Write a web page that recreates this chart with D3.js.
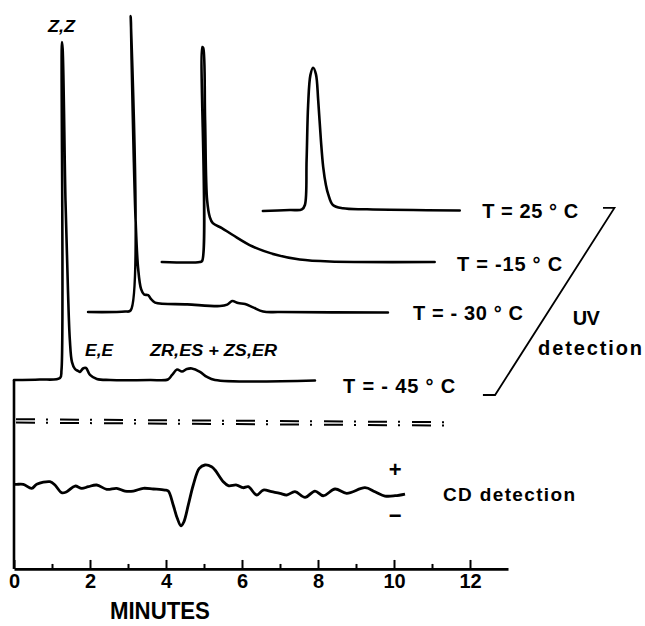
<!DOCTYPE html>
<html><head><meta charset="utf-8">
<script src="https://cdn.jsdelivr.net/npm/d3@7"></script>
<style>body{margin:0;background:#fff}svg{display:block}</style>
</head><body><svg id="c" width="645" height="626"></svg>
<script>
// ---------- data ----------
const tempLabels = ["T = - 45 ° C", "T = - 30 ° C", "T = -15 ° C", "T = 25 ° C"];
// offsets of each stacked trace (minutes, signal units)
const offsetT = [0, 1.95, 3.89, 6.55];
const offsetV = [0, 20.1, 34.9, 50.3];
// label anchors (minutes, signal units)
const labelT = [8.66, 10.50, 11.66, 12.32];
const labelV = [-3.85, 17.75, 32.25, 47.9];

const traceM45 = [[0,0],[0.68,0.15],[1.21,0.6],[1.25,3],[1.262,100],[1.28,98],[1.355,53],[1.42,26.6],[1.47,11.8],[1.526,5.3],[1.605,3.25],[1.684,2.7],[1.737,2.4],[1.816,3.4],[1.895,3.55],[2.0,1.5],[2.18,0.3],[2.53,0],[3.58,0],[4.05,0.15],[4.16,1.5],[4.29,3.1],[4.42,2.5],[4.55,3.25],[4.68,3.4],[4.895,2.4],[5.08,0.9],[5.29,0],[7.92,-0.15]];
const traceM30 = [[0,0],[0.974,0.15],[1.12,0.5],[1.122,87.6],[1.145,74.6],[1.197,47.9],[1.25,27.2],[1.316,13.0],[1.395,6.8],[1.474,5.2],[1.579,5.0],[1.658,3.85],[1.763,2.8],[2.605,2.28],[3.47,1.78],[3.66,2.2],[3.79,3.25],[3.95,2.66],[4.13,2.37],[4.34,1.39],[4.605,0.15],[5.05,0],[7.89,-0.15]];
const traceM15 = [[0,0],[1.0,0],[1.06,0.3],[1.066,63.6],[1.09,63.3],[1.139,42],[1.192,18.3],[1.263,13.3],[1.342,11.5],[1.58,10.06],[1.868,8.0],[2.39,4.6],[3.03,2.07],[3.63,0.74],[4.42,0.15],[7.18,0]];
const traceP25 = [[0,-0.3],[0.71,0],[1.026,0.15],[1.105,1.48],[1.15,14.8],[1.19,31],[1.25,39.9],[1.32,42.1],[1.395,40.2],[1.455,32.5],[1.526,20.7],[1.587,12.7],[1.658,7.4],[1.718,4.7],[1.842,1.48],[2.105,0.5],[2.74,0.2],[5.18,-0.15]];
const uvTraces = [traceM45, traceM30, traceM15, traceP25];

const cdOffset = -31.07;
const cdTrace = [[0,0.2],[0.07,0.2],[0.245,0.2],[0.466,-1.0],[0.597,0.2],[0.947,0.98],[1.079,0],[1.255,-2.28],[1.387,-1.98],[1.605,-0.3],[1.782,-0.98],[1.955,-0.5],[2.176,0],[2.44,-1.27],[2.703,-0.98],[2.92,-1.78],[3.14,-1.78],[3.40,-0.98],[3.666,-1.18],[3.97,-1.48],[4.06,-1.78],[4.19,-5.9],[4.297,-9.85],[4.395,-12.1],[4.47,-10.9],[4.587,-5.9],[4.718,0],[4.876,4.94],[5.026,5.92],[5.20,5.41],[5.29,4.44],[5.508,0.98],[5.64,-0.2],[5.86,0],[6.03,-0.8],[6.166,-0.5],[6.387,-2.96],[6.56,-1.48],[6.78,-1.98],[7.0,-2.46],[7.176,-2.96],[7.395,-1.98],[7.66,-3.64],[7.92,-1.78],[8.14,-3.17],[8.45,-1.18],[8.755,-2.46],[9.237,-0.8],[9.5,-1.98],[9.763,-3.25],[10.03,-3.17],[10.29,-2.66]];

const dividerLine = [[0,-12.1],[11.6,-13.0]];
const bracket = [[12.34,-4.44],[12.66,-4.44],[15.8,50.9],[15.5,50.9]];
const majorTicks = [0,2,4,6,8,10,12];
const minorTicks = [1,3,5,7,9,11];
const axisV = -55.9;

// ---------- scales ----------
const svg = d3.select("#c");
const x = d3.scaleLinear().domain([0, 13]).range([14, 508]);
const y = d3.scaleLinear().domain([0, 100]).range([380, 42]);
const FONT = "'Liberation Sans', Arial, Helvetica, sans-serif";

const line = d3.line().x(d => x(d[0])).y(d => y(d[1])).curve(d3.curveCatmullRom.alpha(0.5));
const lin = d3.line().x(d => x(d[0])).y(d => y(d[1]));

// UV traces
uvTraces.forEach((tr, i) => {
  const pts = tr.map(d => [d[0] + offsetT[i], d[1] + offsetV[i]]);
  svg.append("path").attr("d", line(pts))
    .attr("fill", "none").attr("stroke", "#000").attr("stroke-width", 2.6)
    .attr("stroke-linejoin", "round").attr("stroke-linecap", "round");
});

// CD trace
svg.append("path").attr("d", line(cdTrace.map(d => [d[0], d[1] + cdOffset])))
  .attr("fill", "none").attr("stroke", "#000").attr("stroke-width", 2.8)
  .attr("stroke-linejoin", "round");

// divider (double dash-dot)
[-0.5, 0.5].forEach(o => {
  svg.append("path").attr("d", lin(dividerLine.map(d => [d[0], d[1] + o])))
    .attr("fill", "none").attr("stroke", "#000").attr("stroke-width", 2)
    .attr("stroke-dasharray", "19 11 2 12").attr("stroke-dashoffset", -2);
});

// bracket
svg.append("path").attr("d", lin(bracket))
  .attr("fill", "none").attr("stroke", "#000").attr("stroke-width", 1.8);

// vertical axis line
svg.append("path").attr("d", lin([[0, 0], [0, axisV]]))
  .attr("fill", "none").attr("stroke", "#000").attr("stroke-width", 2.6);

// x axis
const axY = y(axisV);
const gMaj = svg.append("g").attr("transform", `translate(0,${axY})`)
  .call(d3.axisBottom(x).tickValues(majorTicks).tickSizeInner(-9).tickSizeOuter(0).tickPadding(5));
const gMin = svg.append("g").attr("transform", `translate(0,${axY})`)
  .call(d3.axisBottom(x).tickValues(minorTicks).tickSizeInner(-5).tickSizeOuter(0).tickFormat(""));
[gMaj, gMin].forEach(g => {
  g.select(".domain").style("stroke-width", 2.8).style("stroke", "#000");
  g.selectAll(".tick line").style("stroke-width", 2).style("stroke", "#000");
});
gMin.select(".domain").remove();
gMaj.selectAll(".tick text")
  .style("font-family", FONT).style("font-weight", "bold")
  .style("font-size", "20px").style("fill", "#000");

svg.append("text").attr("x", x(3.84)).attr("y", axY + 50)
  .attr("text-anchor", "middle").style("font-family", FONT).style("font-weight", "bold")
  .style("font-size", "24px").attr("textLength", 100).attr("lengthAdjust", "spacingAndGlyphs")
  .text("MINUTES");

// temperature labels
const tempW = [112, 110, 105, 96];
tempLabels.forEach((t, i) => {
  svg.append("text").attr("x", x(labelT[i])).attr("y", y(labelV[i]))
    .style("font-family", FONT).style("font-weight", "bold").style("font-size", "20px")
    .attr("textLength", tempW[i]).attr("lengthAdjust", "spacing").text(t);
});

// peak labels
function lab(txt, t, v, size, anchor, w) {
  const el = svg.append("text").attr("x", x(t)).attr("y", y(v))
    .style("font-family", FONT).style("font-weight", "bold").style("font-style", "italic")
    .style("font-size", size + "px").attr("text-anchor", anchor).text(txt);
  if (w) el.attr("textLength", w).attr("lengthAdjust", "spacingAndGlyphs");
}
lab("Z,Z", 1.25, 103, 17, "middle", 27);
lab("E,E", 1.87, 7.1, 16, "start", 28);
lab("ZR,ES + ZS,ER", 3.58, 7.1, 16, "start", 127);

// UV detection / CD detection
function plain(txt, t, v, size, anchor, w) {
  const el = svg.append("text").attr("x", x(t)).attr("y", y(v))
    .style("font-family", FONT).style("font-weight", "bold")
    .style("font-size", size + "px").attr("text-anchor", anchor).text(txt);
  if (w) el.attr("textLength", w).attr("lengthAdjust", "spacing");
  return el;
}
plain("UV", 15.06, 16.3, 20, "middle", 27);
plain("detection", 15.16, 7.4, 20, "middle", 104);
plain("CD detection", 11.29, -35.8, 19, "start", 132);
plain("+", 10.03, -28.6, 22, "middle");
plain("\u2212", 10.03, -42.4, 22, "middle");
</script></body></html>
